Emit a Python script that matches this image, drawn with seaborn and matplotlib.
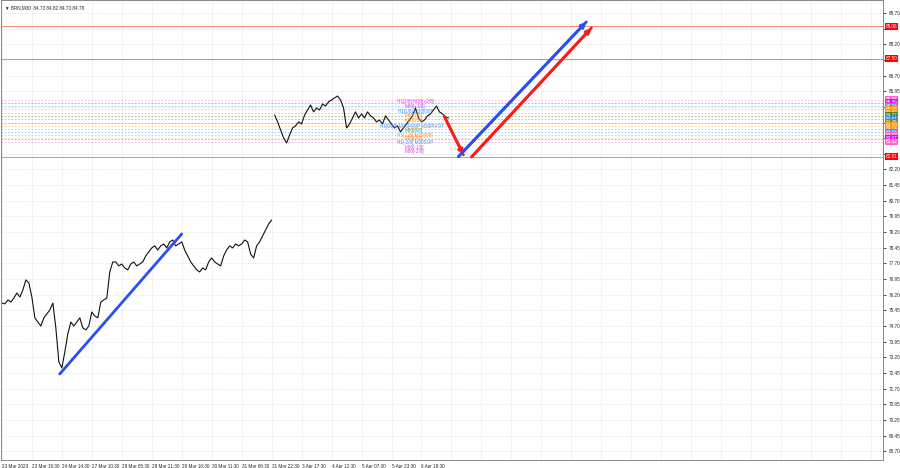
import numpy as np
import pandas as pd
import matplotlib
matplotlib.use("Agg")
import matplotlib.pyplot as plt
import matplotlib.transforms as mtransforms
import seaborn as sns

# BRN M30 closes (one value every 3 bars of screen)
seg1_close = [75.80, 75.76, 75.95, 75.85, 76.04, 76.28, 76.09, 76.43, 76.91, 76.76,
              76.09, 75.09, 74.89, 74.70, 75.09, 75.28, 75.47, 75.80, 74.61, 72.98,
              72.69, 73.46, 74.32, 74.89, 74.70, 74.89, 75.09, 74.61, 74.51, 74.70,
              75.37, 75.18, 75.09, 75.85, 75.95, 76.04, 77.29, 77.77, 77.77, 77.58,
              77.67, 77.48, 77.39, 77.67, 77.77, 77.58, 77.67, 77.77, 78.06, 78.25,
              78.44, 78.54, 78.34, 78.54, 78.63, 78.44, 78.73, 78.82, 78.54, 78.63,
              78.73, 78.34, 78.06, 77.77, 77.58, 77.39, 77.29, 77.48, 77.39, 77.77,
              77.96, 77.77, 77.67, 77.58, 78.06, 78.34, 78.54, 78.44, 78.63, 78.54,
              78.63, 78.82, 78.73, 78.15, 77.96, 78.54, 78.73, 79.02, 79.30, 79.59,
              79.78]
seg2_close = [84.81, 84.48, 84.09, 83.71, 83.47, 83.85, 84.19, 84.29, 84.48, 84.38,
              84.81, 85.05, 85.29, 84.96, 85.15, 85.05, 85.34, 85.24, 85.44, 85.53,
              85.63, 85.72, 85.53, 85.15, 84.19, 84.38, 84.67, 84.96, 84.67, 84.86,
              84.67, 84.96, 84.77, 84.67, 84.48, 84.57, 84.38, 84.77, 84.57, 84.38,
              84.19, 84.29, 84.00, 84.19, 84.38, 84.57, 84.77, 85.15, 84.67, 84.48,
              84.57, 84.77, 84.86, 85.05, 85.24, 84.96, 84.86, 84.72, 84.67]

date_labels = ["23 Mar 2023", "23 Mar 19:30", "24 Mar 14:30", "27 Mar 10:30",
               "28 Mar 05:30", "28 Mar 21:30", "29 Mar 16:30", "30 Mar 11:30",
               "31 Mar 06:30", "31 Mar 22:30", "3 Apr 17:30", "4 Apr 12:30",
               "5 Apr 07:30", "5 Apr 23:30", "6 Apr 18:30"]

# murrey levels (right-hand coloured tags)
level_prices = [85.55, 85.39, 85.24, 85.08, 84.92, 84.77, 84.61, 84.45,
                84.30, 84.14, 83.98, 83.83, 83.67, 83.52]
level_colors = ["#ff66cc", "#ee00ee", "#3399ff", "#ff9900", "#ff8c1a", "#55802a",
                "#3d8fe0", "#6b8e23", "#ff9900", "#ff8c1a", "#3399ff", "#ff66cc",
                "#ee00ee", "#ff66cc"]
red_levels = [89.06, 87.50, 82.81]

# trend lines / forecast: (bar, price)
blue_trend = ([19.3, 60.0], [72.40, 79.11])
red_down = ([147.7, 154.0], [84.72, 82.90])
blue_up = ([152.3, 195.0], [82.81, 89.27])
red_up = ([156.7, 196.7], [82.80, 88.98])

level_notes = [
    ("H1[2/8] M30[+2/8]", "#e040e0", 132.0, 85.48),
    ("M30[+1/8]", "#e040e0", 134.3, 85.24),
    ("H1[1/8] M30[0/8]", "#3399ff", 132.3, 85.00),
    ("M30[1/8]", "#ff8c1a", 134.3, 84.77),
    ("M30[2/8]", "#ff8c1a", 134.3, 84.57),
    ("H1[0/8]P M30[4/8]P M30PIVOT", "#3399ff", 126.0, 84.24),
    ("M30[6/8]", "#6b8e23", 134.3, 84.05),
    ("H1[-1/8] M30[8/8]", "#ff8c1a", 132.0, 83.85),
    ("M30[9/8]", "#ff8c1a", 134.3, 83.69),
    ("H1[-2/8] M30SUP", "#3399ff", 132.0, 83.47),
    ("M30[-1/8]", "#e040e0", 134.3, 83.25),
    ("M30[-2/8]", "#e040e0", 134.3, 83.06),
]

sns.set_style("white")
plt.rcParams['font.family'] = ['Liberation Sans', 'DejaVu Sans']
FS = 3.3

fig = plt.figure(figsize=(9, 4.68), dpi=100)
ax = fig.add_axes([1 / 900, 8 / 468, 882 / 900, 460 / 468])

x1 = np.arange(len(seg1_close))
x2 = np.arange(len(seg2_close)) + len(seg1_close)
sns.lineplot(x=x1, y=seg1_close, ax=ax, color="#111111", lw=0.8)
sns.lineplot(x=x2, y=seg2_close, ax=ax, color="#111111", lw=0.8)

# level lines
for p, c in zip(level_prices, level_colors):
    ax.axhline(p, color=c, lw=0.6, ls=(0, (2, 2)), alpha=0.55, zorder=1)
for p in red_levels:
    ax.axhline(p, color="#f08a6a", lw=0.7, zorder=1)

# trend lines
sns.lineplot(x=blue_trend[0], y=blue_trend[1], ax=ax, color="#2a4ff0", lw=2.0)
for (xs, ys), col in [(red_down, "#ff1a1a"), (blue_up, "#2a4ff0"), (red_up, "#ff1a1a")]:
    sns.lineplot(x=xs, y=ys, ax=ax, color=col, lw=2.0)
    ax.annotate("", xy=(xs[1], ys[1]), xytext=(xs[0], ys[0]),
                arrowprops=dict(arrowstyle="-|>", color=col, lw=2.0, mutation_scale=7,
                                shrinkA=0, shrinkB=0))

for txt, col, bx, p in level_notes:
    ax.text(bx, p, txt, color=col, fontsize=FS, va="center", ha="left", zorder=5)

ax.set_xlim(-0.3, 294)
ax.set_ylim(68.28, 90.32)

# axes and grid
ax.set_xticks(np.arange(0, 295, 10))
xt = date_labels + [""] * (len(np.arange(0, 295, 10)) - len(date_labels))
ax.set_xticklabels(xt, fontsize=FS, ha="left")
ax.tick_params(axis="x", length=2, pad=1, color="#555555")

yt = np.round(np.arange(68.70, 89.71, 0.75), 2)
tags = level_prices + red_levels
ax.yaxis.tick_right()
ax.set_yticks(yt)
ax.set_yticklabels(["" if min(abs(t - q) for q in tags) < 0.3 else f"{t:.2f}" for t in yt],
                   fontsize=FS)
ax.tick_params(axis="y", length=2, pad=2, color="#555555")
ax.grid(True, color="#e3e3e3", lw=0.6, ls=(0, (1, 1)))
for s in ax.spines.values():
    s.set_color("#888888")
    s.set_linewidth(0.7)

trans = mtransforms.blended_transform_factory(ax.transAxes, ax.transData)
for p, c in zip(level_prices, level_colors):
    ax.text(1.003, p, f"{p:.2f}", transform=trans, fontsize=FS, color="white",
            va="center", ha="left", clip_on=False,
            bbox=dict(boxstyle="square,pad=0.2", fc=c, ec="none"))
for p in red_levels:
    ax.text(1.003, p, f"{p:.2f}", transform=trans, fontsize=FS, color="white",
            va="center", ha="left", clip_on=False,
            bbox=dict(boxstyle="square,pad=0.2", fc="#ff0000", ec="none"))

ax.text(0.004, 0.988, "\u25bc BRN,M30  84.73 84.82 84.73 84.78", transform=ax.transAxes,
        fontsize=FS, va="top", ha="left")

fig.savefig("out.png", dpi=100)
